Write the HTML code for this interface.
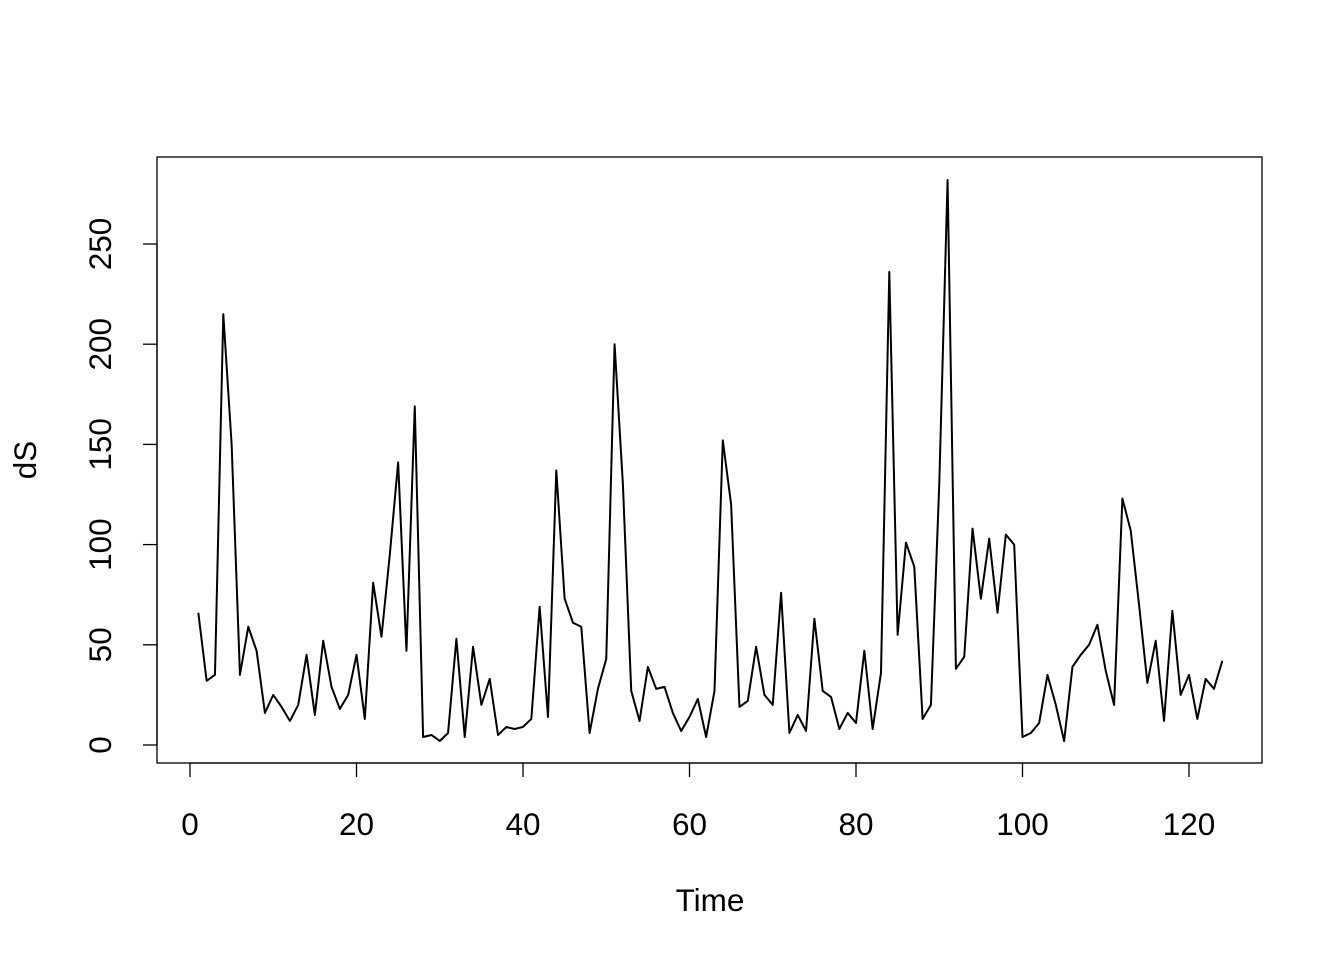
<!DOCTYPE html>
<html><head><meta charset="utf-8"><style>
body{margin:0;background:#fff}
svg{display:block;font-family:"Liberation Sans",Arial,sans-serif}
</style></head><body>
<svg id="chart" width="1344" height="960">
<rect x="0" y="0" width="1344" height="960" fill="#fff"/>
<rect x="157" y="157" width="1105" height="606" fill="none" stroke="#000" stroke-width="1.3"/>
<g id="xaxis"></g>
<g id="yaxis"></g>
<path id="series" fill="none" stroke="#000" stroke-width="2" stroke-linejoin="round"/>
<text x="710" y="911" font-size="31.5" text-anchor="middle">Time</text>
<text transform="translate(36,460) rotate(-90)" font-size="31.5" text-anchor="middle">dS</text>
</svg>
<script>
const values = [66,32,35,215,150,35,59,47,16,25,19,12,20,45,15,52,29,18,25,45,13,81,54,95,141,47,169,4,5,2,6,53,4,49,20,33,5,9,8,9,13,69,14,137,73,61,59,6,28,43,200,130,27,12,39,28,29,16,7,14,23,4,27,152,120,19,22,49,25,20,76,6,15,7,63,27,24,8,16,11,47,8,36,236,55,101,89,13,20,130,282,38,44,108,73,103,66,105,100,4,6,11,35,20,2,39,45,50,60,37,20,123,107,70,31,52,12,67,25,35,13,33,28,42];
const xTicks = [0,20,40,60,80,100,120];
const yTicks = [0,50,100,150,200,250];
const NS='http://www.w3.org/2000/svg';
function sx(t){return 190+(1189-190)*t/120;}
function sy(v){return 745-(745-244)*v/250;}
let d='';
values.forEach((v,i)=>{d+=(i?'L':'M')+sx(i+1).toFixed(2)+','+sy(v).toFixed(2);});
document.getElementById('series').setAttribute('d',d);
const xa=document.getElementById('xaxis');
const xl=document.createElementNS(NS,'line');


xl.setAttribute('x1',sx(xTicks[0]));xl.setAttribute('x2',sx(xTicks[xTicks.length-1]));
xl.setAttribute('y1',763);xl.setAttribute('y2',763);xl.setAttribute('stroke','#000');xl.setAttribute('stroke-width','1.3');
xa.appendChild(xl);
xTicks.forEach(t=>{
 const l=document.createElementNS(NS,'line');
 
 
 l.setAttribute('x1',sx(t));l.setAttribute('x2',sx(t));l.setAttribute('y1',763);l.setAttribute('y2',777);
 l.setAttribute('stroke','#000');l.setAttribute('stroke-width','1.3');xa.appendChild(l);
 const tx=document.createElementNS(NS,'text');
 
 
 tx.setAttribute('x',sx(t));tx.setAttribute('y',835);tx.setAttribute('font-size','31.5');tx.setAttribute('text-anchor','middle');
 tx.textContent=t;xa.appendChild(tx);
});
const ya=document.getElementById('yaxis');
const yl=document.createElementNS(NS,'line');


yl.setAttribute('x1',157);yl.setAttribute('x2',157);
yl.setAttribute('y1',sy(yTicks[0]));yl.setAttribute('y2',sy(yTicks[yTicks.length-1]));yl.setAttribute('stroke','#000');yl.setAttribute('stroke-width','1.3');
ya.appendChild(yl);
yTicks.forEach(v=>{
 const l=document.createElementNS(NS,'line');
 
 
 l.setAttribute('x1',143);l.setAttribute('x2',157);l.setAttribute('y1',sy(v));l.setAttribute('y2',sy(v));
 l.setAttribute('stroke','#000');l.setAttribute('stroke-width','1.3');ya.appendChild(l);
 const tx=document.createElementNS(NS,'text');
 
 
 tx.setAttribute('transform','translate(111,'+sy(v)+') rotate(-90)');
 tx.setAttribute('font-size','31.5');tx.setAttribute('text-anchor','middle');
 tx.textContent=v;ya.appendChild(tx);
});
</script>
</body></html>
